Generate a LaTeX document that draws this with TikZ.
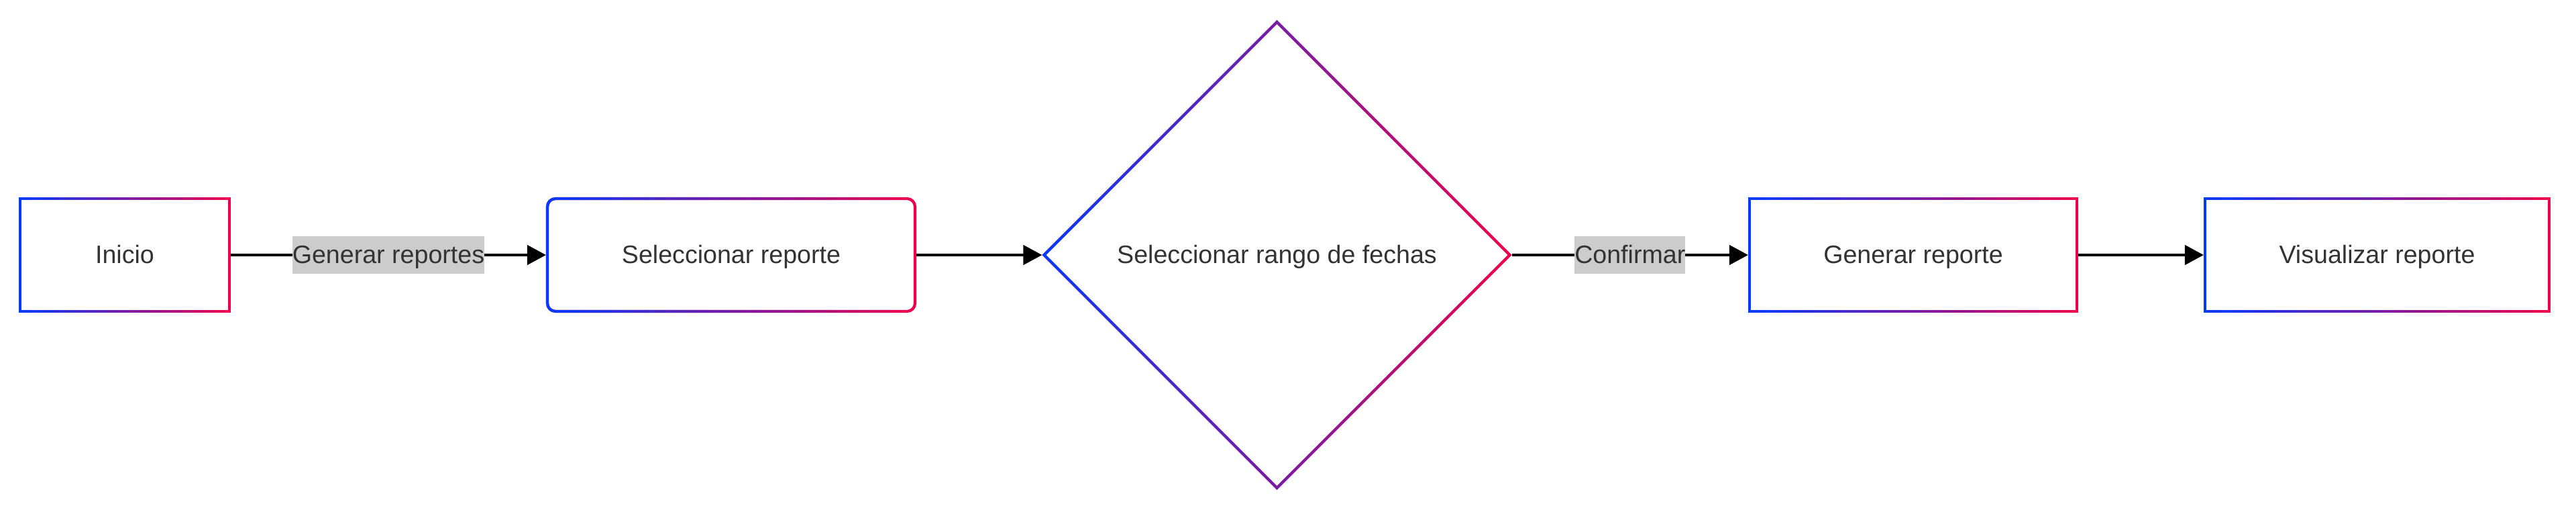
\documentclass[tikz,border=0pt]{standalone}
\usepackage{fontspec}
\setmainfont{Liberation Sans}
\usetikzlibrary{arrows.meta,shapes.geometric,fadings,shadows.blur}
\definecolor{gblue}{RGB}{0,60,255}
\definecolor{gred}{RGB}{240,0,75}
\definecolor{txt}{RGB}{51,51,51}
\definecolor{lblbg}{RGB}{204,204,204}

\begin{document}
\begin{tikzpicture}[
  font=\fontsize{10.7}{13}\selectfont,
  grad/.style={draw=gred, line width=0.042cm, fill=white, align=center, text=txt,
    text height=0.9em, text depth=0.18em,
    blur shadow={shadow xshift=0.02, shadow yshift=-0.07, shadow opacity=20, shadow blur radius=0.1},
    postaction={draw=gblue, line width=0.042cm, path fading=east}},
  box/.style={grad, rectangle, minimum height=1.68cm},
  rbox/.style={box, rounded corners=0.12cm},
  dec/.style={grad, diamond, minimum width=6.96cm, minimum height=6.96cm, inner sep=0pt},
  el/.style={fill=lblbg, inner xsep=0pt, inner ysep=0pt, minimum height=0.56cm, text=txt,
    text height=0.9em, text depth=0.18em},
  lk/.style={-{Triangle[length=0.28cm,width=0.29cm]}, line width=0.045cm},
]
\useasboundingbox (0,3.80) rectangle (38.40,-3.83);
\node[box, minimum width=3.12cm] (inicio) at (1.86,0) {Inicio};
\node[rbox, minimum width=5.48cm] (selrep) at (10.90,0) {Seleccionar reporte};
\node[dec] (rango) at (19.035,0) {Seleccionar rango de fechas};
\node[box, minimum width=4.88cm] (genrep) at (28.52,0) {Generar reporte};
\node[box, minimum width=5.13cm] (visrep) at (35.435,0) {Visualizar reporte};
\draw[lk] (inicio) -- (selrep) node[el,midway]{Generar reportes};
\draw[lk] (selrep) -- (rango);
\draw[lk] (rango) -- (genrep) node[el,midway]{Confirmar};
\draw[lk] (genrep) -- (visrep);
\end{tikzpicture}
\end{document}
